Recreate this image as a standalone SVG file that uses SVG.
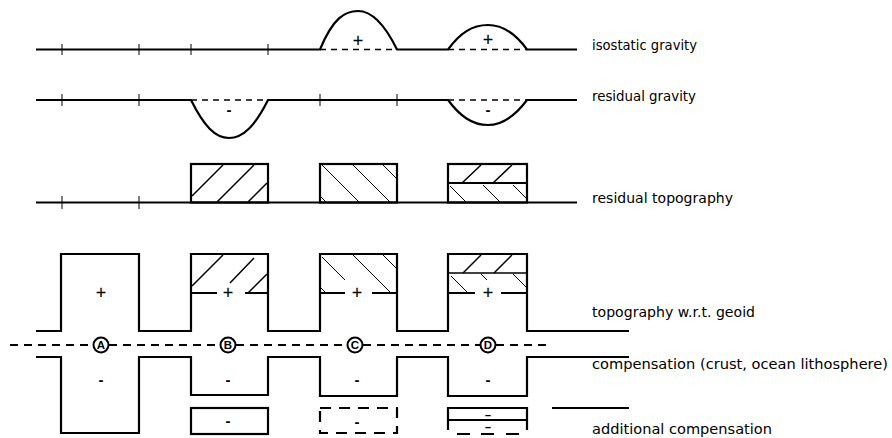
<svg xmlns="http://www.w3.org/2000/svg" width="892" height="438" viewBox="0 0 892 438">
<style>
text{fill:#000}
.ln{fill:none;stroke:#000;stroke-width:2.2}
.tk{fill:none;stroke:#000;stroke-width:1}
.ds{fill:none;stroke:#000;stroke-width:1.5;stroke-dasharray:6 5}
.h1{fill:none;stroke:#000;stroke-width:1.5}
.h2{fill:none;stroke:#000;stroke-width:1}
.sg{font-family:"Liberation Sans",Arial,sans-serif;font-size:18px;text-anchor:middle;stroke:#000;stroke-width:0.15}
.mn{font-family:"Liberation Sans",Arial,sans-serif;font-size:15px;font-weight:bold;text-anchor:middle}
.ms{font-family:"Liberation Sans",Arial,sans-serif;font-size:10px;font-weight:bold;text-anchor:middle}
.lb{font-family:"DejaVu Sans","Liberation Sans",sans-serif;font-size:14px}
.cl{font-family:"Liberation Sans",Arial,sans-serif;font-size:11.5px;font-weight:bold;text-anchor:middle}
</style>
<rect width="892" height="438" fill="#fff"/>
<g id="isostatic-gravity">
<path class="ln" d="M36,49.5 H320 C333,18 345,11 358,11 C372,11 385,25 397,49.5 H448 C460,33 472,25 488,25 C503,25 515,33 527,49.5 H577"/>
<path class="ds" d="M320,49.5 H397 M448,49.5 H527"/>
<path class="tk" d="M62,44 V55 M139,44 V55 M191,44 V55 M268,44 V55"/>
<text class="sg" x="358" y="47">+</text>
<text class="sg" x="488" y="46">+</text>
<text class="lb" x="592" y="50" textLength="105" lengthAdjust="spacingAndGlyphs">isostatic gravity</text>
</g>
<g id="residual-gravity">
<path class="ln" d="M36,100 H191 C204,126 215,138 229,138 C243,138 255,126 268,100 H448 C460,116 472,125 488,125 C503,125 515,116 527,100 H577"/>
<path class="ds" d="M191,100 H268 M448,100 H527"/>
<path class="tk" d="M62,94 V106 M139,94 V106 M320,94 V106 M397,94 V106"/>
<text class="mn" x="229" y="115">-</text>
<text class="mn" x="488" y="115">-</text>
<text class="lb" x="592" y="101" textLength="104" lengthAdjust="spacingAndGlyphs">residual gravity</text>
</g>
<g id="residual-topography">
<path class="ln" d="M36,202.5 H577"/>
<path class="tk" d="M62,196 V209 M139,196 V209"/>
<rect class="ln" x="191" y="164" width="77" height="38.5"/>
<rect class="ln" x="320" y="164" width="77" height="38.5"/>
<rect class="ln" x="448" y="164" width="79" height="38.5"/>
<path class="ln" d="M448,183 H527"/>
<path class="h1" d="M192,196 L223,165 M217,202 L254,165 M248,202 L267,183"/>
<path class="h2" d="M321,197 L326,202 M322,165 L359,202 M353,165 L390,202 M383,165 L396,178"/>
<path class="h1" d="M462,183 L481,165 M493,183 L512,165"/>
<path class="h2" d="M450,186 L466,202 M483,185 L500,202 M513,185 L527,199"/>
<text class="lb" x="592" y="203" textLength="141" lengthAdjust="spacingAndGlyphs">residual topography</text>
</g>
<g id="topography">
<path class="ln" d="M36,331 H61 V254 H139 V331 H191 V254 H268 V331 H320 V254 H397 V331 H448 V254 H527 V331 H629"/>
<path class="h1" d="M192,286 L223,255 M230,283 L254,258 M248,293 L267,274"/>
<path class="ln" d="M191,293 H217 M245,293 H268"/>
<path class="h2" d="M322,257 L345,280 M353,255 L391,293 M383,255 L396,268 M321,288 L326,293"/>
<path class="ln" d="M320,293 H345 M372,293 H397"/>
<path class="h1" d="M448,273 H527"/>
<path class="h1" d="M463,273 L481,255 M494,273 L512,255"/>
<path class="h2" d="M451,276 L468,293 M481,274 L487,280 M513,274 L526,287"/>
<path class="ln" d="M448,293 H475 M501,293 H527"/>
<text class="sg" x="101" y="299">+</text>
<text class="sg" x="228" y="299">+</text>
<text class="sg" x="357" y="299">+</text>
<text class="sg" x="488" y="299">+</text>
<text class="lb" x="592" y="317" textLength="163" lengthAdjust="spacingAndGlyphs">topography w.r.t. geoid</text>
</g>
<g id="geoid">
<path fill="none" stroke="#000" stroke-width="2" stroke-dasharray="8 6" d="M10,345 H93 M109,345 H220 M236,345 H347 M363,345 H480 M496,345 H547"/>
<circle cx="101" cy="345" r="7.5" fill="#fff" stroke="#000" stroke-width="2"/>
<circle cx="228" cy="345" r="7.5" fill="#fff" stroke="#000" stroke-width="2"/>
<circle cx="355" cy="345" r="7.5" fill="#fff" stroke="#000" stroke-width="2"/>
<circle cx="488" cy="345" r="7.5" fill="#fff" stroke="#000" stroke-width="2"/>
<text class="cl" x="101" y="349">A</text>
<text class="cl" x="228" y="349">B</text>
<text class="cl" x="355" y="349">C</text>
<text class="cl" x="488" y="349">D</text>
</g>
<g id="compensation">
<path class="ln" d="M36,357 H61 V433 H139 V357 H191 V395 H268 V357 H320 V396 H397 V357 H448 V396 H527 V357 H629"/>
<text class="mn" x="101" y="385">-</text>
<text class="mn" x="228" y="385">-</text>
<text class="mn" x="357" y="385">-</text>
<text class="mn" x="488" y="385">-</text>
<text class="lb" x="592" y="369" textLength="296" lengthAdjust="spacingAndGlyphs">compensation (crust, ocean lithosphere)</text>
</g>
<g id="additional-compensation">
<rect class="ln" x="191" y="408" width="77" height="26"/>
<text class="mn" x="228" y="426">-</text>
<rect fill="none" stroke="#000" stroke-width="2.2" stroke-dasharray="11 8" x="320" y="408" width="77" height="25"/>
<text class="mn" x="357" y="427">-</text>
<path class="ln" d="M448,430 V408 H527 V430 M448,420 H527"/>
<path fill="none" stroke="#000" stroke-width="2.2" d="M457,434 H470 M481,434 H494 M506,434 H519"/>
<text class="ms" x="488" y="418" textLength="7" lengthAdjust="spacingAndGlyphs">-</text>
<text class="ms" x="488" y="430" textLength="7" lengthAdjust="spacingAndGlyphs">-</text>
<path class="ln" d="M552,408 H629"/>
<text class="lb" x="592" y="434" textLength="180" lengthAdjust="spacingAndGlyphs">additional compensation</text>
</g>
</svg>
